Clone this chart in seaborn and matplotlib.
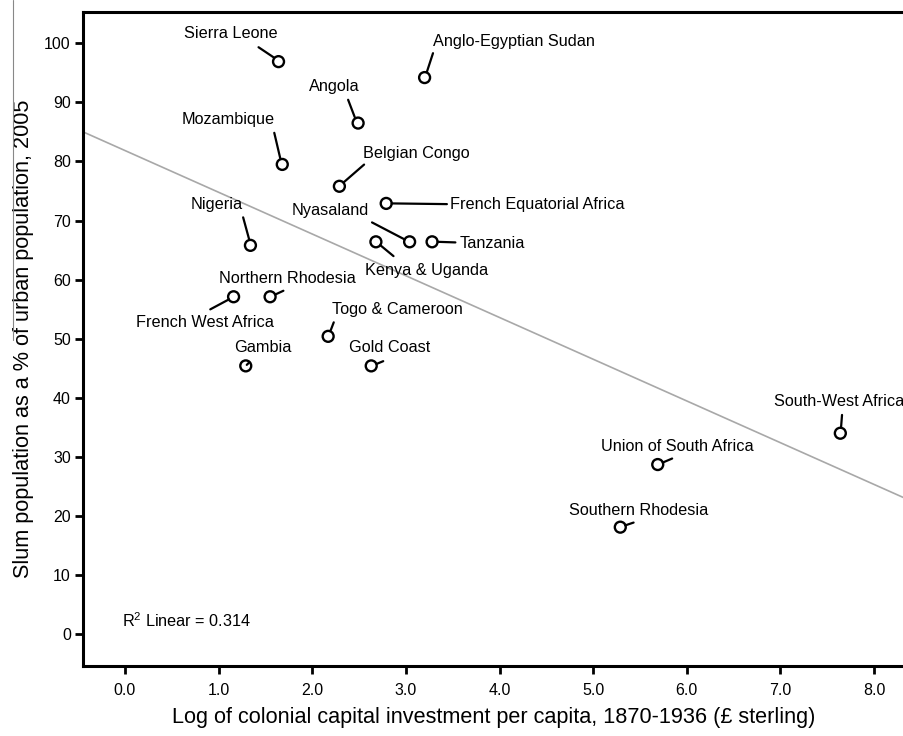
import matplotlib
matplotlib.use('Agg')
import matplotlib.pyplot as plt
from matplotlib.lines import Line2D
from matplotlib.transforms import offset_copy
import pandas as pd
import seaborn as sns

# Colonies
countries = ['Sierra Leone', 'Anglo-Egyptian Sudan', 'Angola', 'Mozambique',
             'Belgian Congo', 'French Equatorial Africa', 'Nigeria', 'Nyasaland',
             'Tanzania', 'Kenya & Uganda', 'Northern Rhodesia', 'French West Africa',
             'Togo & Cameroon', 'Gambia', 'Gold Coast', 'South-West Africa',
             'Union of South Africa', 'Southern Rhodesia']
log_investment = [1.64, 3.20, 2.49, 1.68, 2.29, 2.79, 1.34, 3.04, 3.28, 2.68,
                  1.55, 1.16, 2.17, 1.29, 2.63, 7.64, 5.69, 5.29]
slum_share = [96.9, 94.2, 86.5, 79.5, 75.8, 72.9, 65.8, 66.4, 66.4, 66.4,
              57.1, 57.1, 50.4, 45.4, 45.4, 34.0, 28.7, 18.1]
y_ticks = list(range(0, 101, 10))
x_ticks = [0, 1, 2, 3, 4, 5, 6, 7, 8]

# label placement (pixel offsets from each point): text centre, leader inner/outer ends
text_off = [(-48, 28), (89, 36), (-24, 37), (-54, 45), (77, 33), (151, -1),
            (-34, 41), (-79, 31), (60, -2), (51, -29), (17, 18), (-29, -26),
            (69, 27), (17, 18), (18, 18), (-1, 32), (20, 18), (18, 17)]
lead_in = [(-4.5, 4), (2.4, 6), (-3.4, 6), (-2, 6), (4, 3.7), (5.5, 0),
           (-1.3, 6), (-5, 2.4), (5.5, 0), (4.3, -3.3), (5.5, 2.4), (-4.6, -2.6),
           (2.3, 5.4), (1, 1), (5.5, 2), (0.7, 5.5), (5, 2), (5, 1.8)]
lead_out = [(-20, 14.4), (8.4, 24.4), (-10, 23.3), (-8, 31.6), (24.7, 21.7), (60.7, -0.7),
            (-7.3, 28), (-37.6, 19.4), (23.3, -0.6), (17.6, -14.3), (13.3, 6), (-23.3, -12.6),
            (5.6, 14), (3.5, 3.5), (12, 4.7), (1.7, 18.3), (14.4, 6), (13.3, 4.6)]

df = pd.DataFrame({'country': countries, 'x': log_investment, 'y': slum_share})

sns.set_style('ticks')
plt.rcParams['font.family'] = ['Liberation Sans', 'DejaVu Sans']
plt.rcParams['mathtext.fontset'] = 'custom'
plt.rcParams['mathtext.rm'] = 'Liberation Sans'
plt.rcParams['mathtext.it'] = 'Liberation Sans'
plt.rcParams['axes.labelcolor'] = 'black'
plt.rcParams['text.color'] = 'black'

W, H = 904, 736
fig = plt.figure(figsize=(W / 100, H / 100), dpi=100)
ax = fig.add_axes([83.3 / W, 1 - 666 / H, 1 - 83.3 / W, (666 - 12) / H])
ax.set_xlim(-0.445, 8.32)
ax.set_ylim(-5.4, 105.3)

# fit line across the whole axis
sns.regplot(data=df, x='x', y='y', scatter=False, ci=None, truncate=False,
            color='#a8a8a8', line_kws={'lw': 1.2}, ax=ax)
sns.scatterplot(data=df, x='x', y='y', marker='o', s=62, facecolor='none',
                edgecolor='black', linewidth=1.7, ax=ax, zorder=3)

for i, row in df.iterrows():
    t_in = offset_copy(ax.transData, fig=fig, x=lead_in[i][0], y=lead_in[i][1], units='dots')
    t_out = offset_copy(ax.transData, fig=fig, x=lead_out[i][0], y=lead_out[i][1], units='dots')
    ax.annotate('', xy=(row.x, row.y), xycoords=t_in, xytext=(row.x, row.y), textcoords=t_out,
                arrowprops=dict(arrowstyle='-', lw=1.6, color='black', shrinkA=0, shrinkB=0))
    ax.annotate(row.country, xy=(row.x, row.y), xytext=text_off[i], textcoords='offset pixels',
                ha='center', va='center', fontsize=11.7, color='black')

ax.text(-0.035, 2.3, 'R$^{2}$ Linear = 0.314', ha='left', va='center', fontsize=11.7)

ax.set_xlim(-0.445, 8.32)
ax.set_ylim(-5.4, 105.3)
ax.set_xticks(x_ticks)
ax.set_xticklabels([f'{t:.1f}' for t in x_ticks])
ax.set_yticks(y_ticks)
ax.tick_params(direction='out', length=6, width=2, labelsize=11.5, colors='black')
ax.tick_params(axis='x', pad=6)
ax.tick_params(axis='y', pad=3)
for side in ['left', 'top', 'bottom']:
    ax.spines[side].set_linewidth(2.2)
    ax.spines[side].set_color('black')
ax.spines['right'].set_visible(False)

ax.set_xlabel('Log of colonial capital investment per capita, 1870-1936 (£ sterling)',
              fontsize=15.6, labelpad=7)
ax.set_ylabel('Slum population as a % of urban population, 2005', fontsize=15.6, labelpad=7)

# faint scan line at the left edge
fig.add_artist(Line2D([13 / W, 13 / W], [1, 1 - 340 / H], color='#888888', lw=0.8))

fig.savefig('out.png', dpi=100)
